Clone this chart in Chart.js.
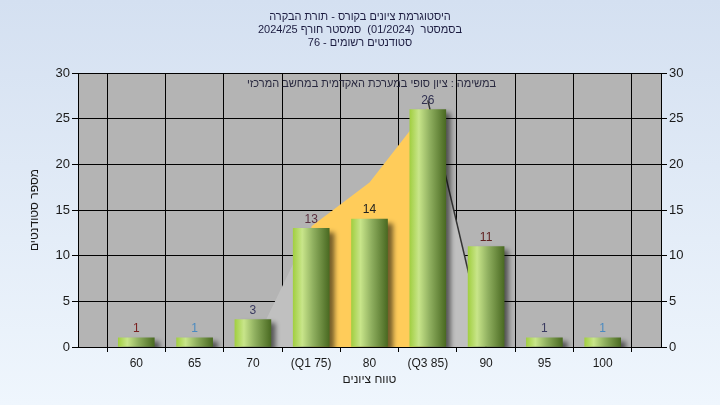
<!DOCTYPE html>
<html>
<head>
<meta charset="utf-8">
<script src="https://cdn.jsdelivr.net/npm/chart.js@4.4.0/dist/chart.umd.min.js"></script>
<style>
  html, body { margin: 0; padding: 0; background: #e4edf8; }
  #chart { display: block; }
</style>
</head>
<body>
<canvas id="chart" width="720" height="405"></canvas>
<script>
// data
const grades = [60, 65, 70, 75, 80, 85, 90, 95, 100];
const gradeLabels = ['60', '65', '70', '(Q1 75)', '80', '(Q3 85)', '90', '95', '100'];
const students = [1, 1, 3, 13, 14, 26, 11, 1, 1];

// quartile band behind the bars
const bandLeftX = [70, 75];
const bandLeftY = [0, 13.2];
const bandMidX = [75, 80, 85];
const bandMidY = [13.2, 18, 26.2];
const bandRightX = [85, 90];
const bandRightY = [27, 0];

const titleLines = [
    'היסטוגרמת ציונים בקורס - תורת הבקרה',
    'בסמסטר  (01/2024)  סמסטר חורף 2024/25',
    'סטודנטים רשומים - 76'
];
const subTitle = 'במשימה : ציון סופי במערכת האקדמית במחשב המרכזי';
const xTitle = 'טווח ציונים';
const yTitle = 'מספר סטודנטים';

const labelColors = ['#7a2020', '#4a8ac0', '#3a3a60', '#5a3040', '#202020', '#303050', '#602020', '#3a3a60', '#4a8ac0'];

const pts = (xs, ys) => xs.map((x, i) => ({ x: x, y: ys[i] }));

const backgroundPlugin = {
    id: 'background',
    beforeDraw(chart) {
        const ctx = chart.ctx;
        const g = ctx.createLinearGradient(0, 0, 0, chart.height);
        g.addColorStop(0, '#d4e0f1');
        g.addColorStop(1, '#eff6fd');
        ctx.save();
        ctx.fillStyle = g;
        ctx.fillRect(0, 0, chart.width, chart.height);
        const a = chart.chartArea;
        ctx.fillStyle = '#b4b4b4';
        ctx.fillRect(a.left, a.top, a.right - a.left, a.bottom - a.top);
        ctx.restore();
    }
};

const shadowPlugin = {
    id: 'barShadow',
    beforeDatasetDraw(chart, args) {
        if (args.index !== 0) return;
        const ctx = chart.ctx;
        ctx.save();
        ctx.shadowColor = 'rgba(0,0,0,0.55)';
        ctx.shadowOffsetX = 5;
        ctx.shadowOffsetY = 4;
        ctx.shadowBlur = 5;
    },
    afterDatasetDraw(chart, args) {
        if (args.index !== 0) return;
        chart.ctx.restore();
    }
};

const textPlugin = {
    id: 'texts',
    afterDatasetsDraw(chart) {
        const ctx = chart.ctx;
        const a = chart.chartArea;
        ctx.save();
        ctx.textAlign = 'center';

        // value labels above bars
        ctx.font = '12px "Liberation Sans", Arial, sans-serif';
        ctx.textBaseline = 'bottom';
        chart.getDatasetMeta(0).data.forEach((el, i) => {
            ctx.fillStyle = labelColors[i];
            ctx.fillText(String(students[i]), el.x, el.y - 3);
        });

        ctx.direction = 'rtl';
        ctx.textBaseline = 'middle';
        ctx.font = '11px "Liberation Sans", Arial, sans-serif';
        ctx.fillStyle = '#2a2a40';
        ctx.fillText(subTitle, (a.left + a.right) / 2 + 2, 84);

        ctx.fillStyle = '#1c1c40';
        titleLines.forEach((t, i) => ctx.fillText(t, 360, 17 + i * 13));
        ctx.restore();
    }
};

const barGradient = (context) => {
    const chart = context.chart;
    const sx = chart.scales.x;
    if (!sx || context.type !== 'data') return '#9cc24c';
    const xc = sx.getPixelForValue(grades[context.dataIndex]);
    if (!isFinite(xc)) return '#9cc24c';
    const g = chart.ctx.createLinearGradient(xc - 18, 0, xc + 18, 0);
    g.addColorStop(0, '#a2cf42');
    g.addColorStop(0.25, '#c8e58a');
    g.addColorStop(0.55, '#90b060');
    g.addColorStop(1, '#4a6a22');
    return g;
};

new Chart(document.getElementById('chart'), {
    type: 'bar',
    data: {
        datasets: [
            {
                type: 'bar',
                data: pts(grades, students),
                backgroundColor: barGradient,
                borderWidth: 0,
                barThickness: 36,
                order: 0
            },
            {
                type: 'line',
                data: pts(bandLeftX, bandLeftY),
                backgroundColor: '#c0c0c0',
                borderWidth: 0,
                pointRadius: 0,
                fill: 'origin',
                order: 1
            },
            {
                type: 'line',
                data: pts(bandMidX, bandMidY),
                backgroundColor: '#ffcc5a',
                borderWidth: 0,
                pointRadius: 0,
                fill: 'origin',
                order: 1
            },
            {
                type: 'line',
                data: pts(bandRightX, bandRightY),
                backgroundColor: '#c0c0c0',
                borderColor: '#333333',
                borderWidth: 1.5,
                pointRadius: 0,
                fill: 'origin',
                order: 1
            }
        ]
    },
    options: {
        responsive: false,
        animation: false,
        devicePixelRatio: 1,
        layout: { padding: { top: 73, left: 0, right: 0, bottom: 0 } },
        plugins: {
            legend: { display: false },
            tooltip: { enabled: false }
        },
        scales: {
            x: {
                type: 'linear',
                min: 55,
                max: 105,
                offset: false,
                afterFit(scale) { scale.height = 58; },
                ticks: {
                    stepSize: 5,
                    padding: 4,
                    color: '#1a1a1a',
                    font: { family: '"Liberation Sans", Arial, sans-serif', size: 12 },
                    callback: function (value) {
                        const i = grades.indexOf(value);
                        return i >= 0 ? gradeLabels[i] : '';
                    }
                },
                grid: { color: '#000000', lineWidth: 1, tickLength: 5 },
                border: { color: '#000000', width: 1 },
                title: {
                    display: true,
                    text: xTitle,
                    color: '#1a1a1a',
                    font: { family: '"Liberation Sans", Arial, sans-serif', size: 12 },
                    padding: { top: 0, bottom: 18 }
                }
            },
            y: {
                position: 'left',
                min: 0,
                max: 30,
                afterFit(scale) { scale.width = 78; },
                ticks: {
                    stepSize: 5,
                    padding: 2,
                    color: '#1a1a1a',
                    font: { family: '"Liberation Sans", Arial, sans-serif', size: 13 }
                },
                grid: { color: '#000000', lineWidth: 1, tickLength: 6 },
                border: { color: '#000000', width: 1 },
                title: {
                    display: true,
                    text: yTitle,
                    color: '#1a1a1a',
                    font: { family: '"Liberation Sans", Arial, sans-serif', size: 12 },
                    padding: { top: 27, bottom: 0 }
                }
            },
            y2: {
                position: 'right',
                min: 0,
                max: 30,
                afterFit(scale) { scale.width = 59; },
                ticks: {
                    stepSize: 5,
                    padding: 2,
                    color: '#1a1a1a',
                    font: { family: '"Liberation Sans", Arial, sans-serif', size: 13 }
                },
                grid: { drawOnChartArea: false, color: '#000000', tickLength: 6 },
                border: { color: '#000000', width: 1 }
            }
        }
    },
    plugins: [backgroundPlugin, shadowPlugin, textPlugin]
});
</script>
</body>
</html>
